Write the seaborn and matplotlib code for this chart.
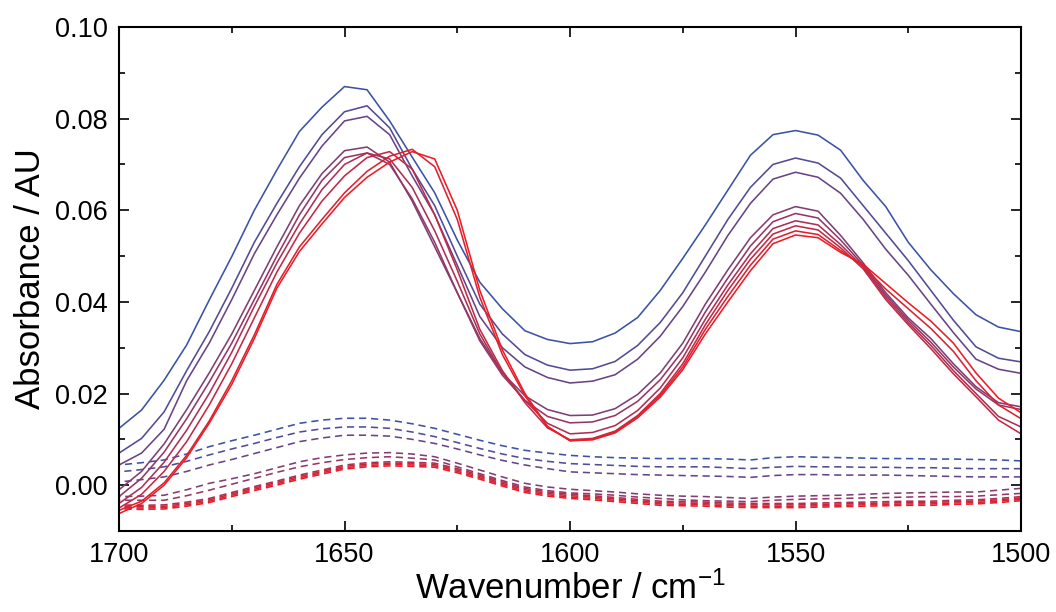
import numpy as np
import pandas as pd
import matplotlib
matplotlib.use("Agg")
import matplotlib.pyplot as plt
import seaborn as sns
from matplotlib.colors import LinearSegmentedColormap
from matplotlib.ticker import MultipleLocator, FormatStrFormatter

# wavenumber grid (cm-1), read every 5 cm-1
wavenumber = list(range(1700, 1499, -5))

# solid spectra, blue -> red
s1 = [.0124, .0164, .0229, .0306, .0404, .0499, .0600, .0688, .0772, .0825, .0870, .0863, .0795, .0716, .0638, .0535,
      .0443, .0385, .0337, .0318, .0309, .0313, .0332, .0366, .0425, .0495, .0568, .0644, .0720, .0765, .0774,
      .0764, .0731, .0665, .0608, .0530, .0470, .0418, .0372, .0345, .0335]
s2 = [.0070, .0102, .0160, .0250, .0335, .0430, .0530, .0615, .0695, .0765, .0815, .0828, .0780, .0690, .0610, .0500,
      .0395, .0330, .0285, .0262, .0251, .0254, .0270, .0305, .0355, .0420, .0500, .0580, .0650, .0700, .0714,
      .0703, .0670, .0610, .0550, .0490, .0425, .0360, .0302, .0277, .0269]
s3 = [.0044, .0070, .0122, .0228, .0310, .0405, .0505, .0590, .0670, .0740, .0795, .0805, .0765, .0675, .0590, .0480,
      .0368, .0300, .0258, .0235, .0223, .0227, .0241, .0275, .0325, .0390, .0465, .0545, .0615, .0668, .0683,
      .0672, .0637, .0580, .0515, .0458, .0395, .0333, .0275, .0253, .0244]
s4 = [-.0010, .0030, .0090, .0165, .0245, .0330, .0425, .0520, .0610, .0680, .0730, .0738, .0705, .0620, .0520, .0420,
      .0320, .0245, .0195, .0165, .0152, .0153, .0167, .0198, .0245, .0310, .0395, .0470, .0540, .0590, .0608,
      .0598, .0545, .0485, .0420, .0365, .0320, .0265, .0215, .0180, .0171]
s5 = [-.0025, .0015, .0072, .0145, .0225, .0310, .0405, .0500, .0590, .0665, .0715, .0725, .0700, .0625, .0530, .0420,
      .0315, .0240, .0185, .0150, .0136, .0138, .0152, .0183, .0230, .0293, .0378, .0452, .0522, .0575, .0593,
      .0583, .0535, .0480, .0415, .0360, .0312, .0258, .0210, .0175, .0165]
s6 = [-.0040, -.0005, .0050, .0120, .0200, .0290, .0390, .0485, .0570, .0645, .0700, .0725, .0712, .0650, .0555, .0445,
      .0330, .0245, .0185, .0135, .0112, .0115, .0130, .0163, .0212, .0278, .0362, .0437, .0505, .0560, .0577,
      .0568, .0525, .0476, .0410, .0355, .0305, .0250, .0200, .0150, .0127]
s7 = [-.0050, -.0020, .0030, .0095, .0175, .0265, .0365, .0465, .0550, .0620, .0675, .0715, .0728, .0690, .0590, .0470,
      .0340, .0250, .0180, .0125, .0099, .0102, .0118, .0152, .0200, .0265, .0350, .0425, .0493, .0548, .0566,
      .0557, .0518, .0472, .0405, .0350, .0298, .0243, .0193, .0142, .0112]
s8 = [-.0055, -.0035, .0005, .0065, .0140, .0228, .0328, .0438, .0520, .0580, .0638, .0685, .0718, .0733, .0695, .0580,
      .0410, .0285, .0195, .0128, .0097, .0100, .0116, .0150, .0196, .0258, .0340, .0412, .0480, .0537, .0555,
      .0547, .0512, .0478, .0428, .0385, .0342, .0292, .0228, .0175, .0145]
s9 = [-.0062, -.0040, .0000, .0060, .0135, .0220, .0320, .0430, .0510, .0570, .0628, .0672, .0705, .0728, .0712, .0600,
      .0425, .0295, .0200, .0128, .0097, .0099, .0114, .0147, .0192, .0252, .0330, .0400, .0468, .0527, .0546,
      .0540, .0508, .0482, .0440, .0398, .0358, .0310, .0245, .0190, .0158]

# dashed spectra, blue -> red
d1 = [.0044, .0049, .0055, .0068, .0084, .0097, .0109, .0122, .0135, .0142, .0146, .0146, .0142, .0134, .0124, .0111,
      .0098, .0086, .0076, .0070, .0065, .0062, .0060, .0059, .0058, .0058, .0058, .0057, .0055, .0060, .0062,
      .0061, .0060, .0059, .0058, .0058, .0057, .0057, .0056, .0055, .0053]
d2 = [.0029, .0034, .0040, .0052, .0066, .0079, .0091, .0104, .0116, .0123, .0127, .0127, .0124, .0116, .0106, .0093,
      .0080, .0068, .0058, .0052, .0047, .0045, .0043, .0041, .0040, .0040, .0040, .0038, .0036, .0039, .0041,
      .0040, .0040, .0039, .0039, .0038, .0038, .0037, .0036, .0036, .0036]
d3 = [.0007, .0012, .0018, .0030, .0044, .0056, .0069, .0082, .0095, .0103, .0109, .0109, .0107, .0100, .0091, .0079,
      .0066, .0054, .0044, .0036, .0029, .0027, .0025, .0023, .0022, .0021, .0020, .0019, .0017, .0021, .0023,
      .0023, .0022, .0022, .0022, .0021, .0020, .0019, .0018, .0018, .0018]
d4 = [-.0025, -.0024, -.0022, -.0010, .0004, .0014, .0025, .0038, .0051, .0060, .0066, .0070, .0071, .0068, .0062, .0048,
      .0033, .0018, .0004, -.0004, -.0009, -.0012, -.0015, -.0019, -.0022, -.0024, -.0025, -.0027, -.0029, -.0026, -.0024,
      -.0023, -.0022, -.0020, -.0018, -.0017, -.0016, -.0015, -.0015, -.0011, -.0007]
d5 = [-.0033, -.0033, -.0033, -.0023, -.0011, .0002, .0015, .0028, .0040, .0049, .0056, .0060, .0062, .0059, .0055, .0040,
      .0025, .0010, -.0004, -.0012, -.0017, -.0019, -.0022, -.0026, -.0029, -.0032, -.0034, -.0035, -.0036, -.0033, -.0031,
      -.0030, -.0029, -.0028, -.0027, -.0026, -.0025, -.0025, -.0024, -.0021, -.0018]
d6 = [-.0043, -.0044, -.0043, -.0037, -.0029, -.0016, -.0003, .0009, .0022, .0033, .0044, .0049, .0051, .0050, .0048, .0036,
      .0022, .0007, -.0007, -.0015, -.0020, -.0023, -.0027, -.0031, -.0035, -.0036, -.0037, -.0039, -.0040, -.0040, -.0040,
      -.0039, -.0038, -.0037, -.0036, -.0035, -.0035, -.0033, -.0032, -.0029, -.0025]
d7 = [-.0046, -.0047, -.0046, -.0040, -.0032, -.0019, -.0006, .0006, .0019, .0030, .0041, .0046, .0048, .0047, .0045, .0033,
      .0019, .0004, -.0010, -.0018, -.0023, -.0026, -.0030, -.0034, -.0038, -.0039, -.0040, -.0042, -.0043, -.0043, -.0043,
      -.0042, -.0041, -.0040, -.0039, -.0038, -.0038, -.0036, -.0035, -.0032, -.0028]
d8 = [-.0049, -.0050, -.0049, -.0043, -.0035, -.0022, -.0009, .0003, .0016, .0027, .0038, .0043, .0045, .0044, .0042, .0030,
      .0016, .0001, -.0013, -.0021, -.0026, -.0029, -.0033, -.0037, -.0041, -.0042, -.0043, -.0045, -.0046, -.0046, -.0046,
      -.0045, -.0044, -.0043, -.0042, -.0041, -.0041, -.0039, -.0038, -.0035, -.0031]
d9 = [-.0052, -.0053, -.0052, -.0046, -.0038, -.0025, -.0012, .0000, .0013, .0024, .0035, .0040, .0042, .0041, .0039, .0027,
      .0013, -.0002, -.0016, -.0024, -.0029, -.0032, -.0036, -.0040, -.0044, -.0045, -.0046, -.0048, -.0049, -.0049, -.0049,
      -.0048, -.0047, -.0046, -.0045, -.0044, -.0044, -.0042, -.0041, -.0038, -.0034]

solid = [s1, s2, s3, s4, s5, s6, s7, s8, s9]
dashed = [d1, d2, d3, d4, d5, d6, d7, d8, d9]

sns.set_style("ticks")
plt.rcParams['font.family'] = ['Liberation Sans', 'DejaVu Sans']
plt.rcParams['mathtext.fontset'] = 'custom'
plt.rcParams['mathtext.rm'] = 'Liberation Sans'
plt.rcParams['mathtext.it'] = 'Liberation Sans'
plt.rcParams['text.color'] = 'black'
plt.rcParams['axes.labelcolor'] = 'black'
plt.rcParams['xtick.color'] = 'black'
plt.rcParams['ytick.color'] = 'black'

cmap = LinearSegmentedColormap.from_list("br", ["#3b52a6", "#ef1c24"])
colors = [cmap(i / 8) for i in range(9)]

fig = plt.figure(figsize=(10.56, 6.12), dpi=100)
ax = fig.add_axes([0.1127, 0.1324, 0.8542, 0.8235])

for i, vals in enumerate(dashed):
    sns.lineplot(x=wavenumber, y=vals, ax=ax, color=colors[i], lw=1.15,
                 linestyle=(0, (4.5, 3)), solid_joinstyle='round')
for i, vals in enumerate(solid):
    sns.lineplot(x=wavenumber, y=vals, ax=ax, color=colors[i], lw=1.15,
                 solid_joinstyle='round')

ax.set_xlim(1700, 1500)
ax.set_ylim(-0.01, 0.10)
ax.xaxis.set_major_locator(MultipleLocator(50))
ax.xaxis.set_minor_locator(MultipleLocator(25))
ax.yaxis.set_major_locator(MultipleLocator(0.02))
ax.yaxis.set_minor_locator(MultipleLocator(0.01))
ax.yaxis.set_major_formatter(FormatStrFormatter('%.2f'))

ax.tick_params(which='both', direction='in', top=True, right=True, width=1.2)
ax.tick_params(which='major', length=7, labelsize=19.5, pad=8)
ax.tick_params(which='minor', length=4)
for sp in ax.spines.values():
    sp.set_linewidth(1.5)
    sp.set_color('black')

ax.set_xlabel("Wavenumber / cm$^{-1}$", fontsize=25, labelpad=2)
ax.set_ylabel("Absorbance / AU", fontsize=25, labelpad=6)

fig.savefig("out.png", dpi=100)
